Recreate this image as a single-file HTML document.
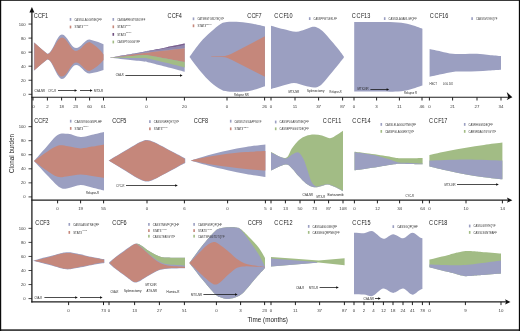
<!DOCTYPE html>
<html><head><meta charset="utf-8"><title>Clonal burden over time</title>
<style>
html,body{margin:0;padding:0;background:#fff;}
body{width:520px;height:331px;overflow:hidden;font-family:"Liberation Sans",sans-serif;}
svg{display:block;will-change:transform;}
svg text{font-family:"Liberation Sans",sans-serif;}
</style></head><body>
<svg width="520" height="331" viewBox="0 0 520 331">
<rect x="0" y="0" width="520" height="331" fill="#fff"/>
<path d="M33.9 42.2 Q41.6 49.15 47.3 53.7 L47.3 53.7 C52.59 53.7 56.71 34.4 62 34.4 C67.04 34.4 70.96 48 76 48 C80.9 48 84.7 39.4 89.6 39.4 Q98.05 41.5 103.5 44.2 L103.5 70 Q98.05 72.1 89.6 73.6 L89.6 73.6 C84.7 73.6 80.9 65 76 65 C70.96 65 67.04 79 62 79 C56.71 79 52.59 59.6 47.3 59.6 Q41.6 64 33.9 70.8 Z" fill="#9b9fc1"/>
<path d="M34.4 42.8 Q41.85 49.65 47.3 54.1 L47.3 54.1 C52.59 54.1 56.71 37.5 62 37.5 C67.04 37.5 70.96 51 76 51 C80.9 51 84.7 42 89.6 42 Q98.05 46.6 103.5 54.4 L103.5 60.1 Q98.05 67.15 89.6 71 L89.6 71 C84.7 71 80.9 62.4 76 62.4 C70.96 62.4 67.04 76.6 62 76.6 C56.71 76.6 52.59 59.2 47.3 59.2 Q41.85 63.5 34.4 70.2 Z" fill="#c5877b"/>
<path d="M109.8 57.8 C112.83 57.26 122.3 55.57 128 54.55 C133.7 53.53 140.5 52.32 144 51.69 C147.5 51.06 145.33 51.47 149 50.76 C152.67 50.05 160.05 48.64 166 47.45 C171.95 46.26 181.58 44.24 184.7 43.6 L184.7 71.75 C181.58 70.91 171.95 68.28 166 66.72 C160.05 65.17 152.67 63.28 149 62.4 C145.33 61.53 147.5 61.91 144 61.47 C140.5 61.02 133.7 60.36 128 59.75 C122.3 59.14 112.83 58.12 109.8 57.8 Z" fill="#9b9fc1"/>
<path d="M109.8 57.8 C112.83 57.26 122.3 55.57 128 54.55 C133.7 53.53 140.5 52.32 144 51.69 C147.5 51.06 145.33 51.47 149 50.76 C152.67 50.05 160.05 48.64 166 47.45 C171.95 46.26 181.58 44.24 184.7 43.6 L184.7 45.2 C181.58 45.73 171.95 47.39 166 48.38 C160.05 49.36 152.67 50.51 149 51.11 C145.33 51.7 147.5 51.33 144 51.92 C140.5 52.52 133.7 53.7 128 54.67 C122.3 55.65 112.83 57.28 109.8 57.8 Z" fill="#7c5f8e"/>
<path d="M109.8 57.8 C112.83 57.28 122.3 55.65 128 54.67 C133.7 53.7 140.5 52.52 144 51.92 C147.5 51.33 145.33 51.7 149 51.11 C152.67 50.51 160.05 49.36 166 48.38 C171.95 47.39 181.58 45.73 184.7 45.2 L184.7 48 C181.58 48.36 171.95 49.48 166 50.15 C160.05 50.82 152.67 51.59 149 52 C145.33 52.41 147.5 52.12 144 52.63 C140.5 53.14 133.7 54.19 128 55.05 C122.3 55.91 112.83 57.34 109.8 57.8 Z" fill="#9186ad"/>
<path d="M109.8 57.8 C112.83 57.38 122.3 56.05 128 55.25 C133.7 54.45 140.5 53.48 144 53.01 C147.5 52.53 145.33 52.81 149 52.39 C152.67 51.96 160.05 51.15 166 50.45 C171.95 49.75 181.58 48.58 184.7 48.2 L184.7 62.1 C181.58 61.5 171.95 59.62 166 58.5 C160.05 57.38 152.67 55.97 149 55.4 C145.33 54.83 147.5 54.92 144 55.07 C140.5 55.23 133.7 55.9 128 56.35 C122.3 56.8 112.83 57.56 109.8 57.8 Z" fill="#c5877b"/>
<path d="M109.8 57.8 C112.83 57.56 122.3 56.8 128 56.35 C133.7 55.9 140.5 55.23 144 55.07 C147.5 54.92 145.33 54.83 149 55.4 C152.67 55.97 160.05 57.38 166 58.5 C171.95 59.62 181.58 61.5 184.7 62.1 L184.7 67.4 C181.58 66.62 171.95 64.19 166 62.75 C160.05 61.31 152.67 59.53 149 58.75 C145.33 57.97 147.5 58.22 144 58.08 C140.5 57.95 133.7 58 128 57.95 C122.3 57.9 112.83 57.82 109.8 57.8 Z" fill="#a2bc85"/>
<path d="M189.5 57 C191.32 54.55 196.87 46.47 200.4 42.3 C203.93 38.13 207.27 35.1 210.7 32 C214.13 28.9 218.28 25.38 221 23.7 C223.72 22.02 224.43 22.22 227 21.9 C229.57 21.58 232.57 21.57 236.4 21.8 C240.23 22.03 245.23 22.53 250 23.3 C254.77 24.07 262.5 25.88 265 26.4 L265 86.3 C263.33 86.85 258.33 88.72 255 89.6 C251.67 90.48 249.5 91.28 245 91.6 C240.5 91.92 232 91.83 228 91.5 C224 91.17 223.88 91.15 221 89.6 C218.12 88.05 214.13 85.27 210.7 82.2 C207.27 79.13 203.93 75.4 200.4 71.2 C196.87 67 191.32 59.37 189.5 57 Z" fill="#9b9fc1"/>
<path d="M211.2 56.3 L222 56.2 C226.5 56 229 55.1 232 53.5 L264.9 36.2 L264.9 76.8 L232 60 C229 58.4 226.5 57.3 222 57 L211.2 56.8 Z" fill="#c5877b"/>
<path d="M271 25.7 C273 26.25 278.83 28 283 29 C287.17 30 292.33 31.6 296 31.7 C299.67 31.8 302.23 30.42 305 29.6 C307.77 28.78 310.43 27.08 312.6 26.8 C314.77 26.52 316.35 27.2 318 27.9 C319.65 28.6 320.62 29.25 322.5 31 C324.38 32.75 326.88 35.67 329.3 38.4 C331.72 41.13 334.97 44.93 337 47.4 C339.03 49.87 340.45 51.77 341.5 53.2 C342.55 54.63 343 55.53 343.3 56 L343.3 58 C343 58.43 342.55 59.23 341.5 60.6 C340.45 61.97 339.03 63.73 337 66.2 C334.97 68.67 331.72 72.53 329.3 75.4 C326.88 78.27 324.3 81.57 322.5 83.4 C320.7 85.23 319.92 85.7 318.5 86.4 C317.08 87.1 316.42 87.75 314 87.6 C311.58 87.45 307.33 86.27 304 85.5 C300.67 84.73 297.5 83 294 83 C290.5 83 286.83 84.5 283 85.5 C279.17 86.5 273 88.42 271 89 Z" fill="#9b9fc1"/>
<circle cx="342.2" cy="57" r="1.6" fill="#9b9fc1"/>
<path d="M354.2 22 C358.5 22.02 372.7 22.02 380 22.1 C387.3 22.18 393 22.1 398 22.5 C403 22.9 405.93 23.47 410 24.5 C414.07 25.53 420.33 28 422.4 28.7 L422.4 85.6 C420.33 86.25 414.07 88.5 410 89.5 C405.93 90.5 403 91.25 398 91.6 C393 91.95 387.3 91.6 380 91.6 C372.7 91.6 358.5 91.6 354.2 91.6 Z" fill="#9b9fc1"/>
<path d="M429.6 49 C431.5 49.4 437.17 50.61 441 51.4 C444.83 52.19 448.6 53.33 452.6 53.75 C456.6 54.17 460.93 53.89 465 53.9 C469.07 53.91 473 53.63 477 53.8 C481 53.97 485 54.53 489 54.9 C493 55.27 499 55.82 501 56 L501 69.7 C499 69.83 493 70.23 489 70.5 C485 70.77 481 71.12 477 71.3 C473 71.48 469.07 71.49 465 71.6 C460.93 71.71 456.6 71.5 452.6 71.95 C448.6 72.4 444.83 73.49 441 74.3 C437.17 75.11 431.5 76.38 429.6 76.8 Z" fill="#9b9fc1"/>
<path d="M34 161 C36 158.75 42.07 151.83 46 147.5 C49.93 143.17 53.93 137.28 57.6 135 C61.27 132.72 64.17 133.47 68 133.8 C71.83 134.13 76.6 136.83 80.6 137 C84.6 137.17 88.1 135.63 92 134.8 C95.9 133.97 102 132.47 104 132 L104 190.6 C102 190.1 95.9 188.53 92 187.6 C88.1 186.67 84.6 184.9 80.6 185 C76.6 185.1 71.43 187.77 68 188.2 C64.57 188.63 63.33 189.63 60 187.6 C56.67 185.57 52.33 180.43 48 176 C43.67 171.57 36.33 163.5 34 161 Z" fill="#9b9fc1"/>
<path d="M34 161 C36 159.58 42.07 155.03 46 152.5 C49.93 149.97 53.93 146.83 57.6 145.8 C61.27 144.77 64.17 145.87 68 146.3 C71.83 146.73 76.6 148.35 80.6 148.4 C84.6 148.45 88.1 147.27 92 146.6 C95.9 145.93 102 144.77 104 144.4 L104 177.8 C102 177.5 95.9 176.57 92 176 C88.1 175.43 84.6 174.37 80.6 174.4 C76.6 174.43 71.83 175.8 68 176.2 C64.17 176.6 61.27 177.83 57.6 176.8 C53.93 175.77 49.93 172.63 46 170 C42.07 167.37 36 162.5 34 161 Z" fill="#c5877b"/>
<path d="M108.55 160.6 C111.79 158.68 122.76 152.14 128 149.05 C133.24 145.96 136.83 143.57 140 142.05 C143.17 140.53 144.67 139.95 147 139.95 C149.33 139.95 150.83 140.67 154 142.05 C157.17 143.43 162.33 146.33 166 148.25 C169.67 150.17 172.79 151.85 176 153.55 C179.21 155.25 183.71 157.63 185.25 158.45 L185.25 163.05 C183.71 163.87 179.21 166.23 176 167.95 C172.79 169.67 169.67 171.42 166 173.35 C162.33 175.28 157.17 178.18 154 179.55 C150.83 180.92 149.33 181.55 147 181.55 C144.67 181.55 143.17 181.07 140 179.55 C136.83 178.03 133.24 175.61 128 172.45 C122.76 169.29 111.79 162.57 108.55 160.6 Z" fill="#9b9fc1"/>
<path d="M109 160.6 C112.17 158.75 122.83 152.52 128 149.5 C133.17 146.48 136.83 144.02 140 142.5 C143.17 140.98 144.67 140.4 147 140.4 C149.33 140.4 150.83 141.12 154 142.5 C157.17 143.88 162.33 146.78 166 148.7 C169.67 150.62 172.87 152.3 176 154 C179.13 155.7 183.33 158.08 184.8 158.9 L184.8 162.6 C183.33 163.42 179.13 165.78 176 167.5 C172.87 169.22 169.67 170.97 166 172.9 C162.33 174.83 157.17 177.73 154 179.1 C150.83 180.47 149.33 181.1 147 181.1 C144.67 181.1 143.17 180.62 140 179.1 C136.83 177.58 133.17 175.08 128 172 C122.83 168.92 112.17 162.5 109 160.6 Z" fill="#c5877b"/>
<path d="M190.6 160.5 C193.5 159.62 201.83 156.88 208 155.2 C214.17 153.52 221.27 151.77 227.6 150.4 C233.93 149.03 239.7 148 246 147 C252.3 146 262.17 144.83 265.4 144.4 L265.4 177 C262.17 176.5 252.3 175.13 246 174 C239.7 172.87 233.93 171.62 227.6 170.2 C221.27 168.78 214.17 167.12 208 165.5 C201.83 163.88 193.5 161.33 190.6 160.5 Z" fill="#9b9fc1"/>
<path d="M190.6 160.5 C193.5 159.88 201.83 157.92 208 156.8 C214.17 155.68 221.27 154.6 227.6 153.8 C233.93 153 239.7 152.47 246 152 C252.3 151.53 262.17 151.17 265.4 151 L265.4 170.6 C262.17 170.33 252.3 169.63 246 169 C239.7 168.37 233.93 167.63 227.6 166.8 C221.27 165.97 214.17 165.05 208 164 C201.83 162.95 193.5 161.08 190.6 160.5 Z" fill="#c5877b"/>
<path d="M271 152 C273.4 153 281.9 158.63 285.4 158 C288.9 157.37 289.73 151.22 292 148.2 C294.27 145.18 296.67 141.95 299 139.9 C301.33 137.85 303.5 136.8 306 135.9 C308.5 135 311.33 134.55 314 134.5 C316.67 134.45 319.33 134.98 322 135.6 C324.67 136.22 327.5 138.35 330 138.2 C332.5 138.05 334.83 135.95 337 134.7 C339.17 133.45 342 131.37 343 130.7 L343 191.2 C341.67 190.5 337.58 188.12 335 187 C332.42 185.88 329.83 184.63 327.5 184.5 C325.17 184.37 323.25 185.75 321 186.2 C318.75 186.65 316.5 187.67 314 187.2 C311.5 186.73 308.5 185.17 306 183.4 C303.5 181.63 301.33 179.1 299 176.6 C296.67 174.1 294.27 170.4 292 168.4 C289.73 166.4 288.9 164.23 285.4 164.6 C281.9 164.97 273.4 169.6 271 170.6 Z" fill="#a2bc85"/>
<path d="M271 152.4 C273.4 153.4 281.9 158.03 285.4 158.4 C288.9 158.77 289.82 155.6 292 154.6 C294.18 153.6 296.58 151.67 298.5 152.4 C300.42 153.13 301.98 156 303.5 159 C305.02 162 306.27 166.62 307.6 170.4 C308.93 174.18 310.1 179.03 311.5 181.7 C312.9 184.37 314.42 185.75 316 186.4 C317.58 187.05 319.08 186.02 321 185.6 C322.92 185.18 325.17 183.77 327.5 183.9 C329.83 184.03 332.42 185.28 335 186.4 C337.58 187.52 341.67 189.9 343 190.6 L343 191.2 C341.67 190.5 337.58 188.12 335 187 C332.42 185.88 329.83 184.63 327.5 184.5 C325.17 184.37 323.25 185.75 321 186.2 C318.75 186.65 316.5 187.67 314 187.2 C311.5 186.73 308.5 185.17 306 183.4 C303.5 181.63 301.33 179.1 299 176.6 C296.67 174.1 294.27 170.4 292 168.4 C289.73 166.4 288.9 164.23 285.4 164.6 C281.9 164.97 273.4 169.6 271 170.6 Z" fill="#9b9fc1"/>
<path d="M354.5 151.8 C356.42 152.03 362.13 152.72 366 153.2 C369.87 153.68 374.12 154.18 377.7 154.7 C381.28 155.22 384.78 155.83 387.5 156.3 C390.22 156.77 392.08 157.18 394 157.5 C395.92 157.82 396.33 158.07 399 158.2 C401.67 158.32 406.07 158.28 410 158.25 C413.93 158.22 420.5 158.04 422.6 158 L422.6 164.35 C420.5 164.29 413.93 164.11 410 164 C406.07 163.89 401.67 163.65 399 163.7 C396.33 163.75 395.92 164.03 394 164.3 C392.08 164.57 390.22 164.85 387.5 165.3 C384.78 165.75 381.28 166.43 377.7 167 C374.12 167.57 369.87 168.15 366 168.7 C362.13 169.25 356.42 170.03 354.5 170.3 Z" fill="#a2bc85"/>
<path d="M354.5 152.2 C356.42 152.45 362.13 153.08 366 153.7 C369.87 154.32 374.12 155.05 377.7 155.9 C381.28 156.75 384.78 157.95 387.5 158.8 C390.22 159.65 392.08 160.38 394 161 C395.92 161.62 396.33 162.18 399 162.5 C401.67 162.82 406.07 162.72 410 162.9 C413.93 163.08 420.5 163.48 422.6 163.6 L422.6 164.35 C420.5 164.29 413.93 164.11 410 164 C406.07 163.89 401.67 163.65 399 163.7 C396.33 163.75 395.92 164.03 394 164.3 C392.08 164.57 390.22 164.85 387.5 165.3 C384.78 165.75 381.28 166.43 377.7 167 C374.12 167.57 369.87 168.15 366 168.7 C362.13 169.25 356.42 170.03 354.5 170.3 Z" fill="#9b9fc1"/>
<path d="M429.4 155 C432.5 154.33 441.9 152.2 448 151 C454.1 149.8 460 148.8 466 147.8 C472 146.8 477.93 145.87 484 145 C490.07 144.13 499.33 143 502.4 142.6 L502.4 179.3 C499.33 178.95 490.07 178.02 484 177.2 C477.93 176.38 472 175.47 466 174.4 C460 173.33 454.1 172.13 448 170.8 C441.9 169.47 432.5 167.13 429.4 166.4 Z" fill="#a2bc85"/>
<path d="M429.4 160.5 C435.5 160.32 453.83 159.4 466 159.4 C478.17 159.4 496.33 160.32 502.4 160.5 L502.4 179.3 C499.33 178.95 490.07 178.02 484 177.2 C477.93 176.38 472 175.47 466 174.4 C460 173.33 454.1 172.13 448 170.8 C441.9 169.47 432.5 167.13 429.4 166.4 Z" fill="#9b9fc1"/>
<path d="M33 260.75 C34.88 260.23 41.05 258.48 44.3 257.6 C47.55 256.73 49.77 256.23 52.5 255.5 C55.23 254.77 58.7 253.7 60.7 253.2 C62.7 252.7 63.28 252.66 64.5 252.5 C65.72 252.34 66.83 252.25 68 252.25 C69.17 252.25 70 252.28 71.5 252.5 C73 252.72 74.72 253.12 77 253.6 C79.28 254.08 82.47 254.8 85.2 255.4 C87.93 256 90.2 256.57 93.4 257.2 C96.6 257.83 102.57 258.87 104.4 259.2 L104.4 263 C102.57 263.3 96.6 264.22 93.4 264.8 C90.2 265.38 87.93 265.95 85.2 266.5 C82.47 267.05 79.28 267.67 77 268.1 C74.72 268.53 73 268.88 71.5 269.1 C70 269.32 69.17 269.4 68 269.4 C66.83 269.4 65.72 269.28 64.5 269.1 C63.28 268.92 62.7 268.85 60.7 268.3 C58.7 267.75 55.23 266.57 52.5 265.8 C49.77 265.03 47.55 264.54 44.3 263.7 C41.05 262.86 34.88 261.24 33 260.75 Z" fill="#9b9fc1"/>
<path d="M34.3 260.75 C35.97 260.33 41.27 259.02 44.3 258.25 C47.33 257.48 49.77 256.88 52.5 256.15 C55.23 255.42 58.7 254.35 60.7 253.85 C62.7 253.35 63.28 253.31 64.5 253.15 C65.72 252.99 66.83 252.9 68 252.9 C69.17 252.9 70 252.93 71.5 253.15 C73 253.38 74.72 253.77 77 254.25 C79.28 254.73 82.47 255.45 85.2 256.05 C87.93 256.65 90.27 257.22 93.4 257.85 C96.54 258.48 102.24 259.52 104.01 259.85 L104.01 262.35 C102.24 262.65 96.54 263.57 93.4 264.15 C90.27 264.73 87.93 265.3 85.2 265.85 C82.47 266.4 79.28 267.02 77 267.45 C74.72 267.88 73 268.23 71.5 268.45 C70 268.67 69.17 268.75 68 268.75 C66.83 268.75 65.72 268.63 64.5 268.45 C63.28 268.27 62.7 268.2 60.7 267.65 C58.7 267.1 55.23 265.92 52.5 265.15 C49.77 264.38 47.33 263.78 44.3 263.05 C41.27 262.32 35.97 261.13 34.3 260.75 Z" fill="#c5877b"/>
<path d="M108.9 263 C109.12 262.77 109.18 262.52 110.2 261.6 C111.22 260.68 113.03 259.05 115 257.5 C116.97 255.95 119.67 254 122 252.3 C124.33 250.6 127.2 248.57 129 247.3 C130.8 246.03 131.67 245.33 132.8 244.7 C133.93 244.07 134.83 243.6 135.8 243.5 C136.77 243.4 137.57 243.68 138.6 244.1 C139.63 244.52 140.2 244.8 142 246 C143.8 247.2 146.67 249.65 149.4 251.3 C152.13 252.95 155.38 254.85 158.4 255.9 C161.42 256.95 163.07 257.3 167.5 257.6 C171.93 257.9 182.08 257.68 185 257.7 L185 268.2 C182.08 268.28 171.93 268.32 167.5 268.7 C163.07 269.08 161.42 269.4 158.4 270.5 C155.38 271.6 152.3 273.65 149.4 275.3 C146.5 276.95 142.93 279.28 141 280.4 C139.07 281.52 138.8 281.63 137.8 282 C136.8 282.37 135.9 282.68 135 282.6 C134.1 282.52 133.4 282.1 132.4 281.5 C131.4 280.9 130.73 280.28 129 279 C127.27 277.72 124.33 275.55 122 273.8 C119.67 272.05 116.97 270.07 115 268.5 C113.03 266.93 111.22 265.32 110.2 264.4 C109.18 263.48 109.12 263.23 108.9 263 Z" fill="#9b9fc1"/>
<path d="M135.8 243.5 C136.27 243.6 137.57 243.68 138.6 244.1 C139.63 244.52 140.2 244.8 142 246 C143.8 247.2 146.67 249.65 149.4 251.3 C152.13 252.95 155.38 254.85 158.4 255.9 C161.42 256.95 163.07 257.3 167.5 257.6 C171.93 257.9 182.08 257.68 185 257.7 L185 265.6 C182.08 265.38 171.93 265.07 167.5 264.3 C163.07 263.53 161.42 262.68 158.4 261 C155.38 259.32 152.13 256.47 149.4 254.2 C146.67 251.93 143.8 248.95 142 247.4 C140.2 245.85 139.63 245.55 138.6 244.9 C137.57 244.25 136.27 243.73 135.8 243.5 Z" fill="#a2bc85"/>
<path d="M109.5 263 C109.68 262.82 109.68 262.73 110.6 261.9 C111.52 261.07 113.1 259.5 115 258 C116.9 256.5 119.67 254.58 122 252.9 C124.33 251.22 127.2 249.17 129 247.9 C130.8 246.63 131.67 245.93 132.8 245.3 C133.93 244.67 134.83 244.08 135.8 244.1 C136.77 244.12 137.57 244.73 138.6 245.4 C139.63 246.07 140.2 246.5 142 248.1 C143.8 249.7 146.67 252.68 149.4 255 C152.13 257.32 155.38 260.25 158.4 262 C161.42 263.75 163.07 264.7 167.5 265.5 C171.93 266.3 182.08 266.58 185 266.8 L185 267.9 C182.08 267.95 171.93 267.85 167.5 268.2 C163.07 268.55 161.42 268.92 158.4 270 C155.38 271.08 152.3 273.07 149.4 274.7 C146.5 276.33 142.93 278.68 141 279.8 C139.07 280.92 138.8 281.03 137.8 281.4 C136.8 281.77 135.9 282.08 135 282 C134.1 281.92 133.4 281.5 132.4 280.9 C131.4 280.3 130.73 279.67 129 278.4 C127.27 277.13 124.33 275.03 122 273.3 C119.67 271.57 116.9 269.53 115 268 C113.1 266.47 111.52 264.93 110.6 264.1 C109.68 263.27 109.68 263.18 109.5 263 Z" fill="#c5877b"/>
<path d="M189.4 263 C191.5 260.17 197.73 251.3 202 246 C206.27 240.7 211.83 234.17 215 231.2 C218.17 228.23 218.67 228.87 221 228.2 C223.33 227.53 226.5 227.33 229 227.2 C231.5 227.07 234 227.07 236 227.4 C238 227.73 238.5 227.27 241 229.2 C243.5 231.13 248 235.87 251 239 C254 242.13 256.67 244.83 259 248 C261.33 251.17 264 256.33 265 258 L265 268 C263.33 269.83 258.67 274.83 255 279 C251.33 283.17 246.33 289.92 243 293 C239.67 296.08 237.67 296.5 235 297.5 C232.33 298.5 229.33 298.98 227 299 C224.67 299.02 223 298.43 221 297.6 C219 296.77 218.17 297.1 215 294 C211.83 290.9 206.27 284.17 202 279 C197.73 273.83 191.5 265.67 189.4 263 Z" fill="#a2bc85"/>
<path d="M189.4 263 C191.5 260.17 197.73 251.3 202 246 C206.27 240.7 211.83 234.17 215 231.2 C218.17 228.23 218.67 228.87 221 228.2 C223.33 227.53 226.5 227.32 229 227.2 C231.5 227.08 234 227.07 236 227.5 C238 227.93 238.5 227.22 241 229.8 C243.5 232.38 248 238.8 251 243 C254 247.2 256.67 251.07 259 255 C261.33 258.93 264 264.67 265 266.6 L265 268 C263.33 269.83 258.67 274.83 255 279 C251.33 283.17 246.33 289.92 243 293 C239.67 296.08 237.67 296.5 235 297.5 C232.33 298.5 229.33 298.98 227 299 C224.67 299.02 223 298.43 221 297.6 C219 296.77 218.17 297.1 215 294 C211.83 290.9 206.27 284.17 202 279 C197.73 273.83 191.5 265.67 189.4 263 Z" fill="#9b9fc1"/>
<path d="M189.4 263 C191.33 261 197.9 254.07 201 251 C204.1 247.93 206 246.07 208 244.6 C210 243.13 211.33 242.37 213 242.2 C214.67 242.03 215.33 241.97 218 243.6 C220.67 245.23 225.83 249.43 229 252 C232.17 254.57 234.33 257.1 237 259 C239.67 260.9 242 262.3 245 263.4 C248 264.5 251.67 265 255 265.6 C258.33 266.2 263.33 266.77 265 267 L265 267.4 C263.33 267.3 258.33 266.97 255 266.8 C251.67 266.63 248 266.23 245 266.4 C242 266.57 239.67 266.53 237 267.8 C234.33 269.07 231.83 271.55 229 274 C226.17 276.45 222.33 280.73 220 282.5 C217.67 284.27 216.67 284.68 215 284.6 C213.33 284.52 212.17 283.6 210 282 C207.83 280.4 205.43 278.17 202 275 C198.57 271.83 191.5 265 189.4 263 Z" fill="#c5877b"/>
<path d="M271 256.9 L295.4 258.7 L318.6 260.5 L344.6 258.2 L344.6 265.2 L318.6 262.6 L295.4 264.6 L271 266.5 Z" fill="#a2bc85"/>
<path d="M271 258.5 L317 262.1 L317 262.7 L295.4 264.6 L271 266.5 Z" fill="#9b9fc1"/>
<path d="M354 232.8 C357 232.8 361 233.3 364 233.3 C366.25 233.3 369.25 231.1 371.5 231.1 C375.1 231.1 379.9 238.8 383.5 238.8 C386.41 238.8 390.29 234.2 393.2 234.2 C396.14 234.2 400.06 238.3 403 238.3 C405.85 238.3 409.65 232.8 412.5 232.8 C415.47 232.8 419.43 238.3 422.4 238.3 L422.4 289 C419.43 289 415.47 294.7 412.5 294.7 C409.65 294.7 405.85 288.6 403 288.6 C400.06 288.6 396.14 292.9 393.2 292.9 C390.29 292.9 386.41 288.6 383.5 288.6 C379.9 288.6 375.1 296.3 371.5 296.3 C369.25 296.3 366.25 294.5 364 294.5 C361 294.5 357 294.3 354 294.3 Z" fill="#9b9fc1"/>
<path d="M429.4 259.6 C432.77 258.77 444.9 255.8 449.6 254.63 C454.3 253.47 455.52 253.13 457.6 252.61 C459.68 252.09 460.77 251.79 462.1 251.51 C463.43 251.23 464.43 251 465.6 250.92 C466.77 250.84 467.77 250.97 469.1 251.04 C470.43 251.11 471.52 251.19 473.6 251.35 C475.68 251.51 477.03 251.64 481.6 252.01 C486.17 252.39 497.77 253.34 501 253.6 L501 273.5 C497.77 273.76 486.17 274.71 481.6 275.09 C477.03 275.46 475.68 275.59 473.6 275.75 C471.52 275.91 470.43 275.99 469.1 276.06 C467.77 276.13 466.77 276.26 465.6 276.18 C464.43 276.09 463.43 275.86 462.1 275.56 C460.77 275.27 459.68 274.96 457.6 274.42 C455.52 273.89 454.3 273.54 449.6 272.33 C444.9 271.13 432.77 268.06 429.4 267.2 Z" fill="#a2bc85"/>
<path d="M429.4 264.6 C432 264.68 440.23 264.98 445 265.1 C449.77 265.22 454.17 265.35 458 265.3 C461.83 265.25 464.33 265.13 468 264.8 C471.67 264.47 474.5 264.03 480 263.3 C485.5 262.57 497.5 260.88 501 260.4 L501 273.5 C497.77 273.76 486.17 274.71 481.6 275.09 C477.03 275.46 475.68 275.59 473.6 275.75 C471.52 275.91 470.43 275.99 469.1 276.06 C467.77 276.13 466.77 276.26 465.6 276.18 C464.43 276.09 463.43 275.86 462.1 275.56 C460.77 275.27 459.68 274.96 457.6 274.42 C455.52 273.89 454.3 273.54 449.6 272.33 C444.9 271.13 432.77 268.06 429.4 267.2 Z" fill="#9b9fc1"/>
<text x="33.5" y="107.6" font-size="4.4" text-anchor="middle" fill="#3a3a3a">0</text>
<path d="M31.9 11 V302.5" stroke="#1e1e1e" stroke-width="1.3" fill="none"/>
<path d="M31.9 7.0 L34.4 12.4 L29.4 12.4 Z" fill="#111"/>
<path d="M31.3 97.3 H509.4" stroke="#1e1e1e" stroke-width="1.05" fill="none"/>
<path d="M512.4 97.3 L506.7 92.0 L508.3 97.3 L506.7 99.9 Z" fill="#111"/>
<path d="M31.3 200.15 H509.4" stroke="#1e1e1e" stroke-width="1.4" fill="none"/>
<path d="M512.4 200.15 l-5.5 -2.6 l1.2 2.6 l-1.2 2.6 Z" fill="#111"/>
<path d="M31.3 301.9 H507.5" stroke="#1e1e1e" stroke-width="1.3" fill="none"/>
<path d="M510.5 301.9 l-5.5 -2.6 l1.2 2.6 l-1.2 2.6 Z" fill="#111"/>
<path d="M28.5 94.3 H32" stroke="#1a1a1a" stroke-width="0.8"/>
<text x="25.7" y="95.8" font-size="4.2" text-anchor="end" fill="#3a3a3a">0</text>
<path d="M28.5 80.25 H32" stroke="#1a1a1a" stroke-width="0.8"/>
<text x="25.7" y="81.75" font-size="4.2" text-anchor="end" fill="#3a3a3a">20</text>
<path d="M28.5 66.2 H32" stroke="#1a1a1a" stroke-width="0.8"/>
<text x="25.7" y="67.7" font-size="4.2" text-anchor="end" fill="#3a3a3a">40</text>
<path d="M28.5 52.15 H32" stroke="#1a1a1a" stroke-width="0.8"/>
<text x="25.7" y="53.65" font-size="4.2" text-anchor="end" fill="#3a3a3a">60</text>
<path d="M28.5 38.1 H32" stroke="#1a1a1a" stroke-width="0.8"/>
<text x="25.7" y="39.6" font-size="4.2" text-anchor="end" fill="#3a3a3a">80</text>
<path d="M28.5 24.05 H32" stroke="#1a1a1a" stroke-width="0.8"/>
<text x="25.7" y="25.55" font-size="4.2" text-anchor="end" fill="#3a3a3a">100</text>
<path d="M28.5 196.9 H32" stroke="#1a1a1a" stroke-width="0.8"/>
<text x="25.7" y="198.4" font-size="4.2" text-anchor="end" fill="#3a3a3a">0</text>
<path d="M28.5 182.85 H32" stroke="#1a1a1a" stroke-width="0.8"/>
<text x="25.7" y="184.35" font-size="4.2" text-anchor="end" fill="#3a3a3a">20</text>
<path d="M28.5 168.8 H32" stroke="#1a1a1a" stroke-width="0.8"/>
<text x="25.7" y="170.3" font-size="4.2" text-anchor="end" fill="#3a3a3a">40</text>
<path d="M28.5 154.75 H32" stroke="#1a1a1a" stroke-width="0.8"/>
<text x="25.7" y="156.25" font-size="4.2" text-anchor="end" fill="#3a3a3a">60</text>
<path d="M28.5 140.7 H32" stroke="#1a1a1a" stroke-width="0.8"/>
<text x="25.7" y="142.2" font-size="4.2" text-anchor="end" fill="#3a3a3a">80</text>
<path d="M28.5 126.65 H32" stroke="#1a1a1a" stroke-width="0.8"/>
<text x="25.7" y="128.15" font-size="4.2" text-anchor="end" fill="#3a3a3a">100</text>
<path d="M28.5 298.6 H32" stroke="#1a1a1a" stroke-width="0.8"/>
<text x="25.7" y="300.1" font-size="4.2" text-anchor="end" fill="#3a3a3a">0</text>
<path d="M28.5 284.55 H32" stroke="#1a1a1a" stroke-width="0.8"/>
<text x="25.7" y="286.05" font-size="4.2" text-anchor="end" fill="#3a3a3a">20</text>
<path d="M28.5 270.5 H32" stroke="#1a1a1a" stroke-width="0.8"/>
<text x="25.7" y="272" font-size="4.2" text-anchor="end" fill="#3a3a3a">40</text>
<path d="M28.5 256.45 H32" stroke="#1a1a1a" stroke-width="0.8"/>
<text x="25.7" y="257.95" font-size="4.2" text-anchor="end" fill="#3a3a3a">60</text>
<path d="M28.5 242.4 H32" stroke="#1a1a1a" stroke-width="0.8"/>
<text x="25.7" y="243.9" font-size="4.2" text-anchor="end" fill="#3a3a3a">80</text>
<path d="M28.5 228.35 H32" stroke="#1a1a1a" stroke-width="0.8"/>
<text x="25.7" y="229.85" font-size="4.2" text-anchor="end" fill="#3a3a3a">100</text>
<path d="M33 97.3 v3.2" stroke="#151515" stroke-width="0.95"/>
<path d="M47.4 97.3 v3.2" stroke="#151515" stroke-width="0.95"/>
<text x="47.4" y="107.6" font-size="4.4" text-anchor="middle" fill="#3a3a3a">2</text>
<path d="M61.6 97.3 v3.2" stroke="#151515" stroke-width="0.95"/>
<text x="61.6" y="107.6" font-size="4.4" text-anchor="middle" fill="#3a3a3a">18</text>
<path d="M75.6 97.3 v3.2" stroke="#151515" stroke-width="0.95"/>
<text x="75.6" y="107.6" font-size="4.4" text-anchor="middle" fill="#3a3a3a">23</text>
<path d="M89.6 97.3 v3.2" stroke="#151515" stroke-width="0.95"/>
<text x="89.6" y="107.6" font-size="4.4" text-anchor="middle" fill="#3a3a3a">60</text>
<path d="M103.5 97.3 v3.2" stroke="#151515" stroke-width="0.95"/>
<text x="103.5" y="107.6" font-size="4.4" text-anchor="middle" fill="#3a3a3a">61</text>
<path d="M146.4 97.3 v3.2" stroke="#151515" stroke-width="0.95"/>
<text x="146.4" y="107.6" font-size="4.4" text-anchor="middle" fill="#3a3a3a">0</text>
<path d="M184.4 97.3 v3.2" stroke="#151515" stroke-width="0.95"/>
<text x="184.4" y="107.6" font-size="4.4" text-anchor="middle" fill="#3a3a3a">20</text>
<path d="M227 97.3 v3.2" stroke="#151515" stroke-width="0.95"/>
<text x="227" y="107.6" font-size="4.4" text-anchor="middle" fill="#3a3a3a">0</text>
<path d="M264.6 97.3 v3.2" stroke="#151515" stroke-width="0.95"/>
<text x="264.6" y="107.6" font-size="4.4" text-anchor="middle" fill="#3a3a3a">26</text>
<path d="M271 97.3 v3.2" stroke="#151515" stroke-width="0.95"/>
<text x="271" y="107.6" font-size="4.4" text-anchor="middle" fill="#3a3a3a">0</text>
<path d="M295 97.3 v3.2" stroke="#151515" stroke-width="0.95"/>
<text x="295" y="107.6" font-size="4.4" text-anchor="middle" fill="#3a3a3a">11</text>
<path d="M318.6 97.3 v3.2" stroke="#151515" stroke-width="0.95"/>
<text x="318.6" y="107.6" font-size="4.4" text-anchor="middle" fill="#3a3a3a">37</text>
<path d="M342.6 97.3 v3.2" stroke="#151515" stroke-width="0.95"/>
<text x="342.6" y="107.6" font-size="4.4" text-anchor="middle" fill="#3a3a3a">87</text>
<path d="M354 97.3 v3.2" stroke="#151515" stroke-width="0.95"/>
<text x="354" y="107.6" font-size="4.4" text-anchor="middle" fill="#3a3a3a">0</text>
<path d="M376.6 97.3 v3.2" stroke="#151515" stroke-width="0.95"/>
<text x="376.6" y="107.6" font-size="4.4" text-anchor="middle" fill="#3a3a3a">3</text>
<path d="M399.4 97.3 v3.2" stroke="#151515" stroke-width="0.95"/>
<text x="399.4" y="107.6" font-size="4.4" text-anchor="middle" fill="#3a3a3a">11</text>
<path d="M422 97.3 v3.2" stroke="#151515" stroke-width="0.95"/>
<text x="422" y="107.6" font-size="4.4" text-anchor="middle" fill="#3a3a3a">46</text>
<path d="M429.4 97.3 v3.2" stroke="#151515" stroke-width="0.95"/>
<text x="429.4" y="107.6" font-size="4.4" text-anchor="middle" fill="#3a3a3a">0</text>
<path d="M452.6 97.3 v3.2" stroke="#151515" stroke-width="0.95"/>
<text x="452.6" y="107.6" font-size="4.4" text-anchor="middle" fill="#3a3a3a">21</text>
<path d="M477 97.3 v3.2" stroke="#151515" stroke-width="0.95"/>
<text x="477" y="107.6" font-size="4.4" text-anchor="middle" fill="#3a3a3a">27</text>
<path d="M501 97.3 v3.2" stroke="#151515" stroke-width="0.95"/>
<text x="501" y="107.6" font-size="4.4" text-anchor="middle" fill="#3a3a3a">34</text>
<path d="M57.6 200.15 v3.2" stroke="#151515" stroke-width="0.95"/>
<text x="57.6" y="210.45" font-size="4.4" text-anchor="middle" fill="#3a3a3a">0</text>
<path d="M80.6 200.15 v3.2" stroke="#151515" stroke-width="0.95"/>
<text x="80.6" y="210.45" font-size="4.4" text-anchor="middle" fill="#3a3a3a">19</text>
<path d="M103.6 200.15 v3.2" stroke="#151515" stroke-width="0.95"/>
<text x="103.6" y="210.45" font-size="4.4" text-anchor="middle" fill="#3a3a3a">55</text>
<path d="M147 200.15 v3.2" stroke="#151515" stroke-width="0.95"/>
<text x="147" y="210.45" font-size="4.4" text-anchor="middle" fill="#3a3a3a">0</text>
<path d="M184.4 200.15 v3.2" stroke="#151515" stroke-width="0.95"/>
<text x="184.4" y="210.45" font-size="4.4" text-anchor="middle" fill="#3a3a3a">6</text>
<path d="M227.6 200.15 v3.2" stroke="#151515" stroke-width="0.95"/>
<text x="227.6" y="210.45" font-size="4.4" text-anchor="middle" fill="#3a3a3a">0</text>
<path d="M265.4 200.15 v3.2" stroke="#151515" stroke-width="0.95"/>
<text x="265.4" y="210.45" font-size="4.4" text-anchor="middle" fill="#3a3a3a">5</text>
<path d="M271 200.15 v3.2" stroke="#151515" stroke-width="0.95"/>
<text x="271" y="210.45" font-size="4.4" text-anchor="middle" fill="#3a3a3a">0</text>
<path d="M285.4 200.15 v3.2" stroke="#151515" stroke-width="0.95"/>
<text x="285.4" y="210.45" font-size="4.4" text-anchor="middle" fill="#3a3a3a">13</text>
<path d="M300 200.15 v3.2" stroke="#151515" stroke-width="0.95"/>
<text x="300" y="210.45" font-size="4.4" text-anchor="middle" fill="#3a3a3a">50</text>
<path d="M314.4 200.15 v3.2" stroke="#151515" stroke-width="0.95"/>
<text x="314.4" y="210.45" font-size="4.4" text-anchor="middle" fill="#3a3a3a">73</text>
<path d="M328.6 200.15 v3.2" stroke="#151515" stroke-width="0.95"/>
<text x="328.6" y="210.45" font-size="4.4" text-anchor="middle" fill="#3a3a3a">87</text>
<path d="M343 200.15 v3.2" stroke="#151515" stroke-width="0.95"/>
<text x="343" y="210.45" font-size="4.4" text-anchor="middle" fill="#3a3a3a">108</text>
<path d="M354.4 200.15 v3.2" stroke="#151515" stroke-width="0.95"/>
<text x="354.4" y="210.45" font-size="4.4" text-anchor="middle" fill="#3a3a3a">0</text>
<path d="M377.4 200.15 v3.2" stroke="#151515" stroke-width="0.95"/>
<text x="377.4" y="210.45" font-size="4.4" text-anchor="middle" fill="#3a3a3a">12</text>
<path d="M399.6 200.15 v3.2" stroke="#151515" stroke-width="0.95"/>
<text x="399.6" y="210.45" font-size="4.4" text-anchor="middle" fill="#3a3a3a">34</text>
<path d="M422.6 200.15 v3.2" stroke="#151515" stroke-width="0.95"/>
<text x="422.6" y="210.45" font-size="4.4" text-anchor="middle" fill="#3a3a3a">64</text>
<path d="M429.4 200.15 v3.2" stroke="#151515" stroke-width="0.95"/>
<text x="429.4" y="210.45" font-size="4.4" text-anchor="middle" fill="#3a3a3a">0</text>
<path d="M466 200.15 v3.2" stroke="#151515" stroke-width="0.95"/>
<text x="466" y="210.45" font-size="4.4" text-anchor="middle" fill="#3a3a3a">10</text>
<path d="M502.4 200.15 v3.2" stroke="#151515" stroke-width="0.95"/>
<text x="502.4" y="210.45" font-size="4.4" text-anchor="middle" fill="#3a3a3a">14</text>
<path d="M68.6 301.9 v3.2" stroke="#151515" stroke-width="0.95"/>
<text x="68.6" y="312.2" font-size="4.4" text-anchor="middle" fill="#3a3a3a">0</text>
<path d="M103.5 301.9 v3.2" stroke="#151515" stroke-width="0.95"/>
<text x="103.5" y="312.2" font-size="4.4" text-anchor="middle" fill="#3a3a3a">73</text>
<path d="M109 301.9 v3.2" stroke="#151515" stroke-width="0.95"/>
<text x="109" y="312.2" font-size="4.4" text-anchor="middle" fill="#3a3a3a">0</text>
<path d="M134.6 301.9 v3.2" stroke="#151515" stroke-width="0.95"/>
<text x="134.6" y="312.2" font-size="4.4" text-anchor="middle" fill="#3a3a3a">13</text>
<path d="M159.4 301.9 v3.2" stroke="#151515" stroke-width="0.95"/>
<text x="159.4" y="312.2" font-size="4.4" text-anchor="middle" fill="#3a3a3a">27</text>
<path d="M184.4 301.9 v3.2" stroke="#151515" stroke-width="0.95"/>
<text x="184.4" y="312.2" font-size="4.4" text-anchor="middle" fill="#3a3a3a">51</text>
<path d="M216.4 301.9 v3.2" stroke="#151515" stroke-width="0.95"/>
<text x="216.4" y="312.2" font-size="4.4" text-anchor="middle" fill="#3a3a3a">0</text>
<path d="M240.6 301.9 v3.2" stroke="#151515" stroke-width="0.95"/>
<text x="240.6" y="312.2" font-size="4.4" text-anchor="middle" fill="#3a3a3a">3</text>
<path d="M264.6 301.9 v3.2" stroke="#151515" stroke-width="0.95"/>
<text x="264.6" y="312.2" font-size="4.4" text-anchor="middle" fill="#3a3a3a">23</text>
<path d="M271 301.9 v3.2" stroke="#151515" stroke-width="0.95"/>
<text x="271" y="312.2" font-size="4.4" text-anchor="middle" fill="#3a3a3a">0</text>
<path d="M295.4 301.9 v3.2" stroke="#151515" stroke-width="0.95"/>
<text x="295.4" y="312.2" font-size="4.4" text-anchor="middle" fill="#3a3a3a">11</text>
<path d="M319.6 301.9 v3.2" stroke="#151515" stroke-width="0.95"/>
<text x="319.6" y="312.2" font-size="4.4" text-anchor="middle" fill="#3a3a3a">37</text>
<path d="M344.4 301.9 v3.2" stroke="#151515" stroke-width="0.95"/>
<text x="344.4" y="312.2" font-size="4.4" text-anchor="middle" fill="#3a3a3a">87</text>
<path d="M354 301.9 v3.2" stroke="#151515" stroke-width="0.95"/>
<text x="354" y="312.2" font-size="4.4" text-anchor="middle" fill="#3a3a3a">0</text>
<path d="M364 301.9 v3.2" stroke="#151515" stroke-width="0.95"/>
<text x="364" y="312.2" font-size="4.4" text-anchor="middle" fill="#3a3a3a">2</text>
<path d="M373.4 301.9 v3.2" stroke="#151515" stroke-width="0.95"/>
<text x="373.4" y="312.2" font-size="4.4" text-anchor="middle" fill="#3a3a3a">4</text>
<path d="M383.4 301.9 v3.2" stroke="#151515" stroke-width="0.95"/>
<text x="383.4" y="312.2" font-size="4.4" text-anchor="middle" fill="#3a3a3a">12</text>
<path d="M393 301.9 v3.2" stroke="#151515" stroke-width="0.95"/>
<text x="393" y="312.2" font-size="4.4" text-anchor="middle" fill="#3a3a3a">18</text>
<path d="M403 301.9 v3.2" stroke="#151515" stroke-width="0.95"/>
<text x="403" y="312.2" font-size="4.4" text-anchor="middle" fill="#3a3a3a">24</text>
<path d="M412.4 301.9 v3.2" stroke="#151515" stroke-width="0.95"/>
<text x="412.4" y="312.2" font-size="4.4" text-anchor="middle" fill="#3a3a3a">41</text>
<path d="M422.4 301.9 v3.2" stroke="#151515" stroke-width="0.95"/>
<text x="422.4" y="312.2" font-size="4.4" text-anchor="middle" fill="#3a3a3a">78</text>
<path d="M429.4 301.9 v3.2" stroke="#151515" stroke-width="0.95"/>
<text x="429.4" y="312.2" font-size="4.4" text-anchor="middle" fill="#3a3a3a">0</text>
<path d="M465.4 301.9 v3.2" stroke="#151515" stroke-width="0.95"/>
<text x="465.4" y="312.2" font-size="4.4" text-anchor="middle" fill="#3a3a3a">9</text>
<path d="M501 301.9 v3.2" stroke="#151515" stroke-width="0.95"/>
<text x="501" y="312.2" font-size="4.4" text-anchor="middle" fill="#3a3a3a">10</text>
<text transform="translate(33.75 18.45) scale(0.84 1)" x="0 4.97 9.51 13.29" y="0" font-size="6.6" fill="#222">CCF1</text>
<text transform="translate(167.55 18.45) scale(0.84 1)" x="0 4.97 9.51 13.29" y="0" font-size="6.6" fill="#222">CCF4</text>
<text transform="translate(247.35 18.45) scale(0.84 1)" x="0 4.97 9.51 13.29" y="0" font-size="6.6" fill="#222">CCF7</text>
<text transform="translate(274.15 18.45) scale(0.84 1)" x="0 5.71 11.1 14.54 18.32" y="0" font-size="6.6" fill="#222">CCF10</text>
<text transform="translate(351.75 18.45) scale(0.84 1)" x="0 5.71 11.1 14.54 18.32" y="0" font-size="6.6" fill="#222">CCF13</text>
<text transform="translate(429.75 18.45) scale(0.84 1)" x="0 5.71 11.1 14.54 18.32" y="0" font-size="6.6" fill="#222">CCF16</text>
<text transform="translate(34.15 123.45) scale(0.84 1)" x="0 4.97 9.51 13.29" y="0" font-size="6.6" fill="#222">CCF2</text>
<text transform="translate(112.15 123.45) scale(0.84 1)" x="0 4.97 9.51 13.29" y="0" font-size="6.6" fill="#222">CCF5</text>
<text transform="translate(193.75 123.45) scale(0.84 1)" x="0 4.97 9.51 13.29" y="0" font-size="6.6" fill="#222">CCF8</text>
<text transform="translate(322.75 123.45) scale(0.84 1)" x="0 5.71 11.1 14.54 18.32" y="0" font-size="6.6" fill="#222">CCF11</text>
<text transform="translate(352.15 123.45) scale(0.84 1)" x="0 5.71 11.1 14.54 18.32" y="0" font-size="6.6" fill="#222">CCF14</text>
<text transform="translate(428.95 123.45) scale(0.84 1)" x="0 5.71 11.1 14.54 18.32" y="0" font-size="6.6" fill="#222">CCF17</text>
<text transform="translate(35.35 225.45) scale(0.84 1)" x="0 4.97 9.51 13.29" y="0" font-size="6.6" fill="#222">CCF3</text>
<text transform="translate(112.35 225.45) scale(0.84 1)" x="0 4.97 9.51 13.29" y="0" font-size="6.6" fill="#222">CCF6</text>
<text transform="translate(247.75 225.45) scale(0.84 1)" x="0 4.97 9.51 13.29" y="0" font-size="6.6" fill="#222">CCF9</text>
<text transform="translate(274.15 225.45) scale(0.84 1)" x="0 5.71 11.1 14.54 18.32" y="0" font-size="6.6" fill="#222">CCF12</text>
<text transform="translate(352.15 225.45) scale(0.84 1)" x="0 5.71 11.1 14.54 18.32" y="0" font-size="6.6" fill="#222">CCF15</text>
<text transform="translate(428.95 225.45) scale(0.84 1)" x="0 5.71 11.1 14.54 18.32" y="0" font-size="6.6" fill="#222">CCF18</text>
<rect x="69.7" y="18" width="1.6" height="2.8" fill="#9b9fc1"/>
<text x="74.4" y="20.75" font-size="3" text-anchor="start" fill="#333" textLength="27.4" lengthAdjust="spacingAndGlyphs">CASSLLAGGYNEQFF</text>
<rect x="69.7" y="25.6" width="1.6" height="2.8" fill="#c5877b"/>
<text x="74.4" y="28.35" font-size="3" text-anchor="start" fill="#333" textLength="8.6" lengthAdjust="spacingAndGlyphs">STAT3</text>
<text x="83.2" y="26" font-size="2.4" text-anchor="start" fill="#333" textLength="5.2" lengthAdjust="spacingAndGlyphs">Y640F</text>
<rect x="112.5" y="18" width="1.6" height="2.8" fill="#9b9fc1"/>
<text x="117.2" y="20.75" font-size="3" text-anchor="start" fill="#333" textLength="28" lengthAdjust="spacingAndGlyphs">CASSAPREGTWSGYFF</text>
<rect x="112.5" y="25.4" width="1.6" height="2.8" fill="#c5877b"/>
<text x="117.2" y="28.15" font-size="3" text-anchor="start" fill="#333" textLength="8.6" lengthAdjust="spacingAndGlyphs">STAT3</text>
<text x="126" y="25.8" font-size="2.4" text-anchor="start" fill="#333" textLength="5.2" lengthAdjust="spacingAndGlyphs">D661Y</text>
<rect x="112.5" y="33" width="1.6" height="2.8" fill="#6f4f7f"/>
<text x="117.2" y="35.75" font-size="3" text-anchor="start" fill="#333" textLength="8.6" lengthAdjust="spacingAndGlyphs">STAT3</text>
<text x="126" y="33.4" font-size="2.4" text-anchor="start" fill="#333" textLength="5.2" lengthAdjust="spacingAndGlyphs">N647I</text>
<rect x="112.5" y="40.6" width="1.6" height="2.8" fill="#a2bc85"/>
<text x="117.2" y="43.35" font-size="3" text-anchor="start" fill="#333" textLength="23" lengthAdjust="spacingAndGlyphs">CASSPTGGGGYFF</text>
<rect x="192.7" y="17.4" width="1.6" height="2.8" fill="#9b9fc1"/>
<text x="197.4" y="20.15" font-size="3" text-anchor="start" fill="#333" textLength="26.6" lengthAdjust="spacingAndGlyphs">CATSRGTGSDTEQYF</text>
<rect x="192.7" y="24.4" width="1.6" height="2.8" fill="#c5877b"/>
<text x="197.4" y="27.15" font-size="3" text-anchor="start" fill="#333" textLength="8.6" lengthAdjust="spacingAndGlyphs">STAT3</text>
<text x="206.2" y="24.8" font-size="2.4" text-anchor="start" fill="#333" textLength="5.2" lengthAdjust="spacingAndGlyphs">S614R</text>
<rect x="308.9" y="17.2" width="1.6" height="2.8" fill="#9b9fc1"/>
<text x="313.6" y="19.95" font-size="3" text-anchor="start" fill="#333" textLength="23.4" lengthAdjust="spacingAndGlyphs">CASSPFWTLEKLFF</text>
<rect x="383.9" y="17.2" width="1.6" height="2.8" fill="#9b9fc1"/>
<text x="388.6" y="19.95" font-size="3" text-anchor="start" fill="#333" textLength="28.2" lengthAdjust="spacingAndGlyphs">CASSDLAGANLGFQFF</text>
<rect x="471.3" y="17.2" width="1.6" height="2.8" fill="#9b9fc1"/>
<text x="476" y="19.95" font-size="3" text-anchor="start" fill="#333" textLength="21.4" lengthAdjust="spacingAndGlyphs">CASSSVGYEQYF</text>
<rect x="69.9" y="119.8" width="1.6" height="2.8" fill="#9b9fc1"/>
<text x="74.6" y="122.55" font-size="3" text-anchor="start" fill="#333" textLength="27.4" lengthAdjust="spacingAndGlyphs">CASSVGGGSPLHF</text>
<rect x="69.9" y="127" width="1.6" height="2.8" fill="#c5877b"/>
<text x="74.6" y="129.75" font-size="3" text-anchor="start" fill="#333" textLength="8.6" lengthAdjust="spacingAndGlyphs">STAT3</text>
<text x="83.4" y="127.4" font-size="2.4" text-anchor="start" fill="#333" textLength="5.2" lengthAdjust="spacingAndGlyphs">D661Y</text>
<rect x="149.1" y="120.2" width="1.6" height="2.8" fill="#9b9fc1"/>
<text x="153.8" y="122.95" font-size="3" text-anchor="start" fill="#333" textLength="25.4" lengthAdjust="spacingAndGlyphs">CASSVGRFQETQYF</text>
<rect x="149.1" y="127.4" width="1.6" height="2.8" fill="#c5877b"/>
<text x="153.8" y="130.15" font-size="3" text-anchor="start" fill="#333" textLength="8.6" lengthAdjust="spacingAndGlyphs">STAT3</text>
<text x="162.6" y="127.8" font-size="2.4" text-anchor="start" fill="#333" textLength="5.2" lengthAdjust="spacingAndGlyphs">D661Y</text>
<rect x="229.9" y="119.8" width="1.6" height="2.8" fill="#9b9fc1"/>
<text x="234.6" y="122.55" font-size="3" text-anchor="start" fill="#333" textLength="26.8" lengthAdjust="spacingAndGlyphs">CASSSLTGSLAPPSGYF</text>
<rect x="229.9" y="127.4" width="1.6" height="2.8" fill="#c5877b"/>
<text x="234.6" y="130.15" font-size="3" text-anchor="start" fill="#333" textLength="8.6" lengthAdjust="spacingAndGlyphs">STAT3</text>
<text x="243.4" y="127.8" font-size="2.4" text-anchor="start" fill="#333" textLength="5.2" lengthAdjust="spacingAndGlyphs">I659L</text>
<rect x="274.9" y="120.6" width="1.6" height="2.8" fill="#9b9fc1"/>
<text x="279.6" y="123.35" font-size="3" text-anchor="start" fill="#333" textLength="29.2" lengthAdjust="spacingAndGlyphs">CASSPLGAVGTNEQFF</text>
<rect x="274.9" y="127.4" width="1.6" height="2.8" fill="#a2bc85"/>
<text x="279.6" y="130.15" font-size="3" text-anchor="start" fill="#333" textLength="29.2" lengthAdjust="spacingAndGlyphs">CASSEPPGGGTDEQFF</text>
<rect x="380.5" y="123" width="1.6" height="2.8" fill="#9b9fc1"/>
<text x="385.2" y="125.75" font-size="3" text-anchor="start" fill="#333" textLength="31" lengthAdjust="spacingAndGlyphs">CASSLELAGGLVTNEQFF</text>
<rect x="380.5" y="130" width="1.6" height="2.8" fill="#a2bc85"/>
<text x="385.2" y="132.75" font-size="3" text-anchor="start" fill="#333" textLength="29" lengthAdjust="spacingAndGlyphs">CASSPGLAGGRETQYF</text>
<rect x="463.9" y="123" width="1.6" height="2.8" fill="#9b9fc1"/>
<text x="468.6" y="125.75" font-size="3" text-anchor="start" fill="#333" textLength="24.2" lengthAdjust="spacingAndGlyphs">CASRHGGSDEQFF</text>
<rect x="463.9" y="130" width="1.6" height="2.8" fill="#a2bc85"/>
<text x="468.6" y="132.75" font-size="3" text-anchor="start" fill="#333" textLength="27.6" lengthAdjust="spacingAndGlyphs">CARSRDAGTGYGYTF</text>
<rect x="68.5" y="223" width="1.6" height="2.8" fill="#9b9fc1"/>
<text x="73.2" y="225.75" font-size="3" text-anchor="start" fill="#333" textLength="26" lengthAdjust="spacingAndGlyphs">CASSLASGTNEQFF</text>
<rect x="68.5" y="231" width="1.6" height="2.8" fill="#c5877b"/>
<text x="73.2" y="233.75" font-size="3" text-anchor="start" fill="#333" textLength="8.6" lengthAdjust="spacingAndGlyphs">STAT3</text>
<text x="82" y="231.4" font-size="2.4" text-anchor="start" fill="#333" textLength="5.2" lengthAdjust="spacingAndGlyphs">Y640F</text>
<rect x="148.1" y="223" width="1.6" height="2.8" fill="#9b9fc1"/>
<text x="152.8" y="225.75" font-size="3" text-anchor="start" fill="#333" textLength="26.4" lengthAdjust="spacingAndGlyphs">CASSTNEVPQPQHF</text>
<rect x="148.1" y="229.2" width="1.6" height="2.8" fill="#c5877b"/>
<text x="152.8" y="231.95" font-size="3" text-anchor="start" fill="#333" textLength="8.6" lengthAdjust="spacingAndGlyphs">STAT3</text>
<text x="161.6" y="229.6" font-size="2.4" text-anchor="start" fill="#333" textLength="5.2" lengthAdjust="spacingAndGlyphs">Y640F</text>
<rect x="148.1" y="234.8" width="1.6" height="2.8" fill="#a2bc85"/>
<text x="152.8" y="237.55" font-size="3" text-anchor="start" fill="#333" textLength="22.4" lengthAdjust="spacingAndGlyphs">CASSLTEAYGYTF</text>
<rect x="193.3" y="223" width="1.6" height="2.8" fill="#9b9fc1"/>
<text x="198" y="225.75" font-size="3" text-anchor="start" fill="#333" textLength="24" lengthAdjust="spacingAndGlyphs">CASSPGSPQPQHF</text>
<rect x="193.3" y="229.2" width="1.6" height="2.8" fill="#c5877b"/>
<text x="198" y="231.95" font-size="3" text-anchor="start" fill="#333" textLength="8.6" lengthAdjust="spacingAndGlyphs">STAT3</text>
<text x="206.8" y="229.6" font-size="2.4" text-anchor="start" fill="#333" textLength="5.2" lengthAdjust="spacingAndGlyphs">Y640F</text>
<rect x="193.3" y="234.8" width="1.6" height="2.8" fill="#a2bc85"/>
<text x="198" y="237.55" font-size="3" text-anchor="start" fill="#333" textLength="26.6" lengthAdjust="spacingAndGlyphs">CASTSPGGTDTQYF</text>
<rect x="307.9" y="225" width="1.6" height="2.8" fill="#9b9fc1"/>
<text x="312.6" y="227.75" font-size="3" text-anchor="start" fill="#333" textLength="24.6" lengthAdjust="spacingAndGlyphs">CASSLAGLGSEQFF</text>
<rect x="307.9" y="231" width="1.6" height="2.8" fill="#a2bc85"/>
<text x="312.6" y="233.75" font-size="3" text-anchor="start" fill="#333" textLength="27" lengthAdjust="spacingAndGlyphs">CASSEGQRPNEQFF</text>
<rect x="392.5" y="225.2" width="1.6" height="2.8" fill="#9b9fc1"/>
<text x="397.2" y="227.95" font-size="3" text-anchor="start" fill="#333" textLength="20.6" lengthAdjust="spacingAndGlyphs">CASSGQPQHF</text>
<rect x="468.9" y="224.6" width="1.6" height="2.8" fill="#9b9fc1"/>
<text x="473.6" y="227.35" font-size="3" text-anchor="start" fill="#333" textLength="22" lengthAdjust="spacingAndGlyphs">CASSLGWYEQYF</text>
<rect x="468.9" y="231" width="1.6" height="2.8" fill="#a2bc85"/>
<text x="473.6" y="233.75" font-size="3" text-anchor="start" fill="#333" textLength="23.2" lengthAdjust="spacingAndGlyphs">CASSLSGNTEAFF</text>
<text x="34.4" y="92" font-size="2.9" text-anchor="start" fill="#222" textLength="10.6" lengthAdjust="spacingAndGlyphs">CSA-NR</text>
<text x="48" y="92" font-size="2.9" text-anchor="start" fill="#222" textLength="8" lengthAdjust="spacingAndGlyphs">CYC-R</text>
<path d="M58 90.5 H75.7" stroke="#111" stroke-width="0.75" fill="none"/>
<path d="M77.2 90.5 l-2.6 -1.25 l0 2.5 Z" fill="#111"/>
<path d="M80 90.5 H91.1" stroke="#111" stroke-width="0.75" fill="none"/>
<path d="M92.6 90.5 l-2.6 -1.25 l0 2.5 Z" fill="#111"/>
<text x="94" y="92" font-size="2.9" text-anchor="start" fill="#222" textLength="9.2" lengthAdjust="spacingAndGlyphs">MTX-R</text>
<text x="115.7" y="76" font-size="2.9" text-anchor="start" fill="#222" textLength="8" lengthAdjust="spacingAndGlyphs">CSA-R</text>
<path d="M125.4 75.5 H181.1" stroke="#111" stroke-width="0.75" fill="none"/>
<path d="M182.6 75.5 l-2.6 -1.25 l0 2.5 Z" fill="#111"/>
<text x="234" y="96" font-size="2.9" text-anchor="start" fill="#222" textLength="14.6" lengthAdjust="spacingAndGlyphs">Relapse NR</text>
<text x="288.4" y="93" font-size="2.9" text-anchor="start" fill="#222" textLength="11" lengthAdjust="spacingAndGlyphs">MTX-NR</text>
<text x="307" y="92" font-size="2.9" text-anchor="start" fill="#222" textLength="17.4" lengthAdjust="spacingAndGlyphs">Splenectomy</text>
<text x="329.6" y="93" font-size="2.9" text-anchor="start" fill="#222" textLength="12" lengthAdjust="spacingAndGlyphs">Relapse-R</text>
<text x="357.6" y="90" font-size="2.9" text-anchor="start" fill="#222" textLength="11" lengthAdjust="spacingAndGlyphs">MTX-NR</text>
<path d="M370.4 89.5 H387.7" stroke="#111" stroke-width="0.75" fill="none"/>
<path d="M389.2 89.5 l-2.6 -1.25 l0 2.5 Z" fill="#111"/>
<text x="404" y="94" font-size="2.9" text-anchor="start" fill="#222" textLength="13" lengthAdjust="spacingAndGlyphs">Relapse R</text>
<text x="429.4" y="85" font-size="2.9" text-anchor="start" fill="#222" textLength="7.6" lengthAdjust="spacingAndGlyphs">HSCT</text>
<text x="443" y="85" font-size="2.9" text-anchor="start" fill="#222" textLength="10" lengthAdjust="spacingAndGlyphs">LGL DX</text>
<text x="86" y="194" font-size="2.9" text-anchor="start" fill="#222" textLength="13" lengthAdjust="spacingAndGlyphs">Relapse-R</text>
<text x="116" y="187" font-size="2.9" text-anchor="start" fill="#222" textLength="8.4" lengthAdjust="spacingAndGlyphs">CYC-R</text>
<path d="M126 185.5 H176.3" stroke="#111" stroke-width="0.75" fill="none"/>
<path d="M177.8 185.5 l-2.6 -1.25 l0 2.5 Z" fill="#111"/>
<text x="302.4" y="196" font-size="2.9" text-anchor="start" fill="#222" textLength="10.6" lengthAdjust="spacingAndGlyphs">CSA-NR</text>
<text x="316.6" y="198" font-size="2.9" text-anchor="start" fill="#222" textLength="8.6" lengthAdjust="spacingAndGlyphs">MTX-R</text>
<text x="327.6" y="196" font-size="2.9" text-anchor="start" fill="#222" textLength="16" lengthAdjust="spacingAndGlyphs">Bortezomib</text>
<text x="405.6" y="197" font-size="2.9" text-anchor="start" fill="#222" textLength="8.4" lengthAdjust="spacingAndGlyphs">CYC-R</text>
<text x="444.6" y="186" font-size="2.9" text-anchor="start" fill="#222" textLength="10.8" lengthAdjust="spacingAndGlyphs">MTX-NR</text>
<path d="M457 184.5 H497.3" stroke="#111" stroke-width="0.75" fill="none"/>
<path d="M498.8 184.5 l-2.6 -1.25 l0 2.5 Z" fill="#111"/>
<text x="34.4" y="299" font-size="2.9" text-anchor="start" fill="#222" textLength="7.6" lengthAdjust="spacingAndGlyphs">CSA-R</text>
<path d="M44.4 297.5 H76.3" stroke="#111" stroke-width="0.75" fill="none"/>
<path d="M77.8 297.5 l-2.6 -1.25 l0 2.5 Z" fill="#111"/>
<path d="M80 297.5 H101.1" stroke="#111" stroke-width="0.75" fill="none"/>
<path d="M102.6 297.5 l-2.6 -1.25 l0 2.5 Z" fill="#111"/>
<text x="110.4" y="293" font-size="2.9" text-anchor="start" fill="#222" textLength="8" lengthAdjust="spacingAndGlyphs">CSA-R</text>
<text x="124" y="292" font-size="2.9" text-anchor="start" fill="#222" textLength="17.6" lengthAdjust="spacingAndGlyphs">Splenectomy</text>
<text x="145.6" y="286" font-size="2.9" text-anchor="start" fill="#222" textLength="11" lengthAdjust="spacingAndGlyphs">MTX-NR</text>
<text x="146.6" y="292" font-size="2.9" text-anchor="start" fill="#222" textLength="10.4" lengthAdjust="spacingAndGlyphs">ATG-NR</text>
<text x="166.6" y="293" font-size="2.9" text-anchor="start" fill="#222" textLength="12.8" lengthAdjust="spacingAndGlyphs">Humira-R</text>
<text x="191" y="296" font-size="2.9" text-anchor="start" fill="#222" textLength="11" lengthAdjust="spacingAndGlyphs">MTX-NR</text>
<path d="M203.4 294.5 H236.1" stroke="#111" stroke-width="0.75" fill="none"/>
<path d="M237.6 294.5 l-2.6 -1.25 l0 2.5 Z" fill="#111"/>
<text x="296" y="289" font-size="2.9" text-anchor="start" fill="#222" textLength="8" lengthAdjust="spacingAndGlyphs">CSA-R</text>
<text x="309" y="289" font-size="2.9" text-anchor="start" fill="#222" textLength="9" lengthAdjust="spacingAndGlyphs">MTX-R</text>
<path d="M319.6 287.5 H337.3" stroke="#111" stroke-width="0.75" fill="none"/>
<path d="M338.8 287.5 l-2.6 -1.25 l0 2.5 Z" fill="#111"/>
<text x="363.4" y="300" font-size="2.9" text-anchor="start" fill="#222" textLength="10.6" lengthAdjust="spacingAndGlyphs">CSA-NR</text>
<path d="M375 298.5 H379.3" stroke="#111" stroke-width="0.75" fill="none"/>
<path d="M380.8 298.5 l-2.6 -1.25 l0 2.5 Z" fill="#111"/>
<text x="247.5" y="321.7" font-size="6.9" text-anchor="start" fill="#222" textLength="40.4" lengthAdjust="spacingAndGlyphs">Time (months)</text>
<text transform="translate(13.5 173.1) rotate(-90)" font-size="6.9" fill="#222" textLength="39" lengthAdjust="spacingAndGlyphs">Clonal burden</text>
<rect x="0" y="0" width="520" height="1" fill="#3a3a3a"/>
<rect x="0" y="329.2" width="520" height="1.8" fill="#444"/>
<rect x="0" y="0" width="1.2" height="331" fill="#0a0a0a"/>
<rect x="518.85" y="0" width="1.15" height="331" fill="#0a0a0a"/>
</svg>
</body></html>
